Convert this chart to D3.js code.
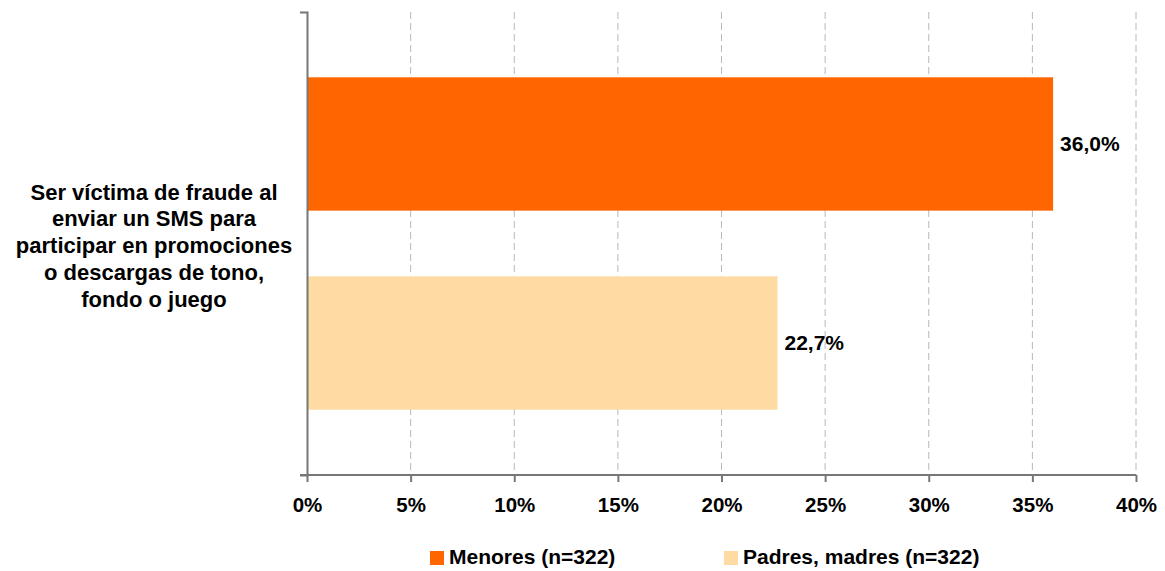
<!DOCTYPE html>
<html>
<head>
<meta charset="utf-8">
<script src="https://cdn.jsdelivr.net/npm/d3@7"></script>
<style>
  body { margin: 0; background: #fff; }
  text { font-family: "Liberation Sans", Arial, sans-serif; font-weight: bold; fill: #000; }
  .axis path, .axis line { stroke: #777; stroke-width: 2; }
  .grid line { stroke: #b8b8b8; stroke-dasharray: 7,4; }
</style>
</head>
<body>
<svg id="chart" width="1165" height="571"></svg>
<script>
// data
var category = "Ser víctima de fraude al enviar un SMS para participar en promociones o descargas de tono, fondo o juego";
var categoryLines = ["Ser víctima de fraude al", "enviar un SMS para", "participar en promociones", "o descargas de tono,", "fondo o juego"];
var seriesNames = ["Menores (n=322)", "Padres, madres (n=322)"];
var seriesValues = [36.0, 22.7];
var seriesColors = ["#FF6600", "#FFDBA4"];
var xTicks = [0, 5, 10, 15, 20, 25, 30, 35, 40];

var svg = d3.select("#chart");
// plot box (avoid "top", it is a window property)
var plotL = 307, plotR = 1136, plotT = 12, plotB = 475;

var x = d3.scaleLinear().domain([0, 40]).range([plotL, plotR]);
var yCat = d3.scaleBand().domain([category]).range([plotT, plotB]);
var ySer = d3.scaleBand().domain(seriesNames).range([plotT, plotB])
  .paddingInner(0.33).paddingOuter(0.328);

// gridlines
svg.append("g")
  .attr("class", "grid")
  .selectAll("line")
  .data(xTicks.slice(1))
  .enter().append("line")
  .attr("x1", function(d) { return x(d); })
  .attr("x2", function(d) { return x(d); })
  .attr("y1", plotT)
  .attr("y2", plotB);

// bars
svg.append("g")
  .selectAll("rect")
  .data(seriesValues)
  .enter().append("rect")
  .attr("x", x(0))
  .attr("y", function(d, i) { return ySer(seriesNames[i]); })
  .attr("width", function(d) { return x(d) - x(0); })
  .attr("height", ySer.bandwidth())
  .attr("fill", function(d, i) { return seriesColors[i]; });

// value labels
svg.append("g")
  .selectAll("text")
  .data(seriesValues)
  .enter().append("text")
  .attr("x", function(d) { return x(d) + 7; })
  .attr("y", function(d, i) { return ySer(seriesNames[i]) + ySer.bandwidth() / 2; })
  .attr("dy", "0.35em")
  .style("font-size", "21px")
  .text(function(d) { return d.toFixed(1).replace(".", ",") + "%"; });

// x axis
var xAxis = svg.append("g")
  .attr("class", "axis")
  .attr("transform", "translate(0," + plotB + ")")
  .call(d3.axisBottom(x).tickValues(xTicks).tickSize(7).tickSizeOuter(7)
    .tickFormat(function(d) { return d + "%"; }));
xAxis.selectAll("text")
  .attr("y", 22)
  .style("font-size", "20.5px")
  .style("font-family", "Liberation Sans, Arial, sans-serif")
  .style("font-weight", "bold")
  .attr("fill", "#000");
xAxis.select(".domain").attr("d", "M" + (plotL - 7) + ",0H" + plotR);

// y axis
svg.append("g")
  .attr("class", "axis")
  .attr("transform", "translate(" + plotL + ",0)")
  .call(d3.axisLeft(yCat).tickValues([]).tickSizeOuter(7));

// category label
var catText = svg.append("text")
  .attr("text-anchor", "middle")
  .style("font-size", "22px");
catText.selectAll("tspan")
  .data(categoryLines)
  .enter().append("tspan")
  .attr("x", 154)
  .attr("y", function(d, i) { return yCat(category) + yCat.bandwidth() / 2 + (i - 2) * 26.8 + 2; })
  .attr("dy", "0.35em")
  .text(function(d) { return d; });

// legend
var legendX = [430, 724];
var legend = svg.append("g")
  .selectAll("g")
  .data(seriesNames)
  .enter().append("g")
  .attr("transform", function(d, i) { return "translate(" + legendX[i] + ",557)"; });
legend.append("rect")
  .attr("x", 0).attr("y", -6)
  .attr("width", 14).attr("height", 14)
  .attr("fill", function(d, i) { return seriesColors[i]; });
legend.append("text")
  .attr("x", 19)
  .attr("dy", "0.35em")
  .style("font-size", "21px")
  .text(function(d) { return d; });
</script>
</body>
</html>
